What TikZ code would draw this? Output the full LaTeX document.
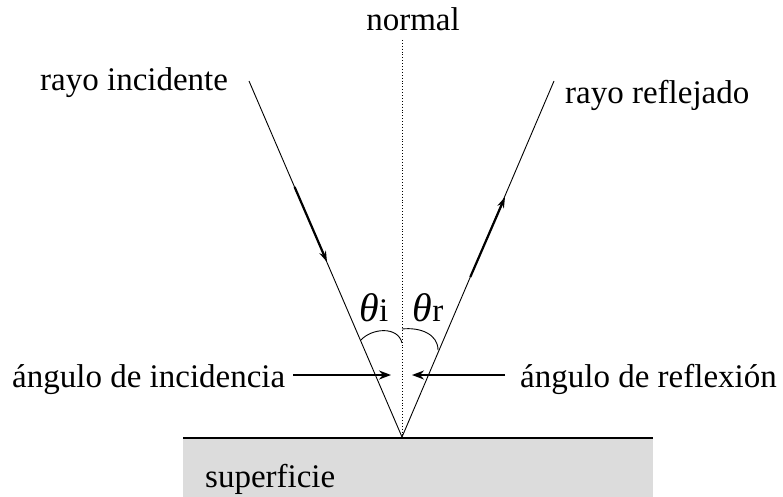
\documentclass[tikz,border=0pt]{standalone}
\usepackage{fontspec}
\setmainfont{Liberation Serif}
\usetikzlibrary{arrows.meta}
\begin{document}
\begin{tikzpicture}[x=1pt,y=-1pt,
  lbl/.style={inner sep=0pt, font=\fontsize{33}{40}\selectfont},
  ray/.style={line width=0.9pt},
  dirarrow/.style={line width=2.2pt, -{Stealth[length=11pt,width=7pt]}},
  ptr/.style={line width=1.8pt, -{Stealth[length=12pt,width=9pt]}},
  arcline/.style={line width=0.9pt}]
\useasboundingbox (0,0) rectangle (783,497);
% surface
\fill[fill={rgb,255:red,220;green,220;blue,220}] (183,438) rectangle (653,497);
\coordinate (sl) at (183,438);
\coordinate (sr) at (653,438);
\draw[line width=1.2pt] (sl) -- (sr);
\node[lbl, anchor=base west] (sup) at (205,487) {superficie};
% geometry
\coordinate (O) at (402,437);
\coordinate (Itop) at (249,81);
\coordinate (Rtop) at (554,81);
\coordinate (Ntop) at (402,40);
\draw[dotted, line width=0.9pt] (Ntop) -- (O);
\draw[ray] (Itop) -- (O);
\draw[ray] (O) -- (Rtop);
% direction arrows
\coordinate (ia) at (294.6,187);
\coordinate (ib) at (327,262);
\coordinate (ra) at (470.3,277);
\coordinate (rb) at (505,197);
\draw[dirarrow] (ia) -- (ib);
\draw[dirarrow] (ra) -- (rb);
% labels
\node[lbl, anchor=base] (normal) at (413,31) {normal};
\node[lbl, anchor=base west] (ri) at (40,91) {rayo incidente};
\node[lbl, anchor=base west] (rr) at (565,104) {rayo reflejado};
\node[lbl, anchor=base west] (ai) at (12,387) {ángulo de incidencia};
\node[lbl, anchor=base east] (ar) at (777,387) {ángulo de reflexión};
\node[lbl, anchor=base] (ti) at (374,321) {{\fontsize{40}{40}\selectfont\itshape θ}i};
\node[lbl, anchor=base] (tr) at (428,321) {{\fontsize{40}{40}\selectfont\itshape θ}r};
% angle arcs
\coordinate (la) at (361,340);
\coordinate (lb) at (402,343);
\coordinate (ra1) at (402,329);
\coordinate (rb1) at (438,350);
\draw[arcline] (la) .. controls (372,328) and (398,326) .. (lb);
\draw[arcline] (ra1) .. controls (420,327) and (438,334) .. (rb1);
% pointers
\coordinate (pls) at (293,375);
\coordinate (pl) at (391,375);
\coordinate (prs) at (505,375);
\coordinate (pr) at (412,375);
\draw[ptr] (pls) -- (pl);
\draw[ptr] (prs) -- (pr);
\end{tikzpicture}
\end{document}
